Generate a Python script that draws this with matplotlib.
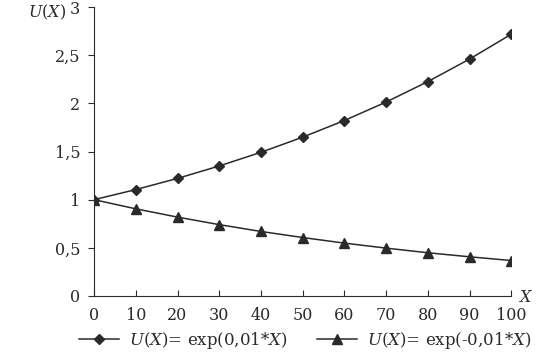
import matplotlib
matplotlib.use("Agg")
import matplotlib.pyplot as plt
from matplotlib.ticker import FuncFormatter

x = [0, 10, 20, 30, 40, 50, 60, 70, 80, 90, 100]
u_pos = [1.0, 1.105, 1.221, 1.350, 1.492, 1.649, 1.822, 2.014, 2.226, 2.460, 2.718]
u_neg = [1.0, 0.905, 0.819, 0.741, 0.670, 0.607, 0.549, 0.497, 0.449, 0.407, 0.368]
labels = ["$U$($X$)= exp(0,01*$X$)", "$U$($X$)= exp(-0,01*$X$)"]

plt.rcParams['font.family'] = ['DejaVu Serif']
plt.rcParams['mathtext.fontset'] = 'dejavuserif'

fig = plt.figure(figsize=(5.6, 3.53), dpi=100)
ax = fig.add_axes([0.168, 0.1615, 0.745, 0.8185])
col = '#2a2a2a'
l1, = ax.plot(x, u_pos, marker='D', markersize=5, color=col, lw=1.1, label=labels[0])
l2, = ax.plot(x, u_neg, marker='^', markersize=6.5, color=col, lw=1.1, label=labels[1])

ax.set_xlim(0, 100)
ax.set_ylim(0, 3)
ax.set_xticks(x)
ax.set_yticks([0, 0.5, 1, 1.5, 2, 2.5, 3])
ax.yaxis.set_major_formatter(FuncFormatter(lambda v, p: (f"{v:g}").replace('.', ',')))
for s in ['top', 'right']:
    ax.spines[s].set_visible(False)
for s in ['left', 'bottom']:
    ax.spines[s].set_color(col)
ax.tick_params(axis='x', direction='in', length=4, labelsize=11.5, pad=8, colors=col)
ax.tick_params(axis='y', direction='out', length=4, labelsize=11.5, pad=6, colors=col)

fig.text(0.05, 0.965, "$U$($X$)", fontsize=11.5, ha='left', va='center', color=col)
fig.text(0.938, 0.158, "$X$", fontsize=11.5, ha='center', va='center', color=col)

fig.legend(handles=[l1, l2], loc='center', bbox_to_anchor=(0.545, 0.035), ncol=2,
           frameon=False, fontsize=12, handlelength=2.4, columnspacing=1.8,
           handletextpad=0.6, labelcolor=col)

fig.savefig("out.png", dpi=100)
